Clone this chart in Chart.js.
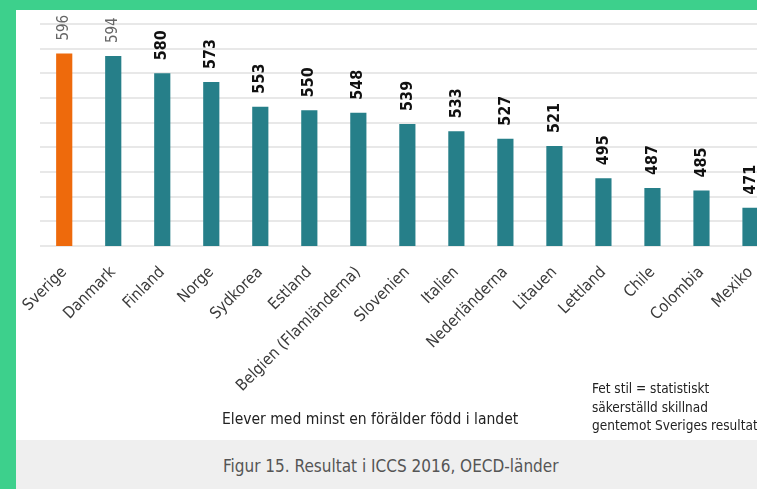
<!DOCTYPE html>
<html lang="sv">
<head>
<meta charset="utf-8">
<script src="https://cdn.jsdelivr.net/npm/chart.js@4/dist/chart.umd.min.js"></script>
<style>
  html, body { margin: 0; padding: 0; }
  body {
    width: 757px; height: 489px; overflow: hidden;
    background: #3dd08c; position: relative;
    font-family: "DejaVu Sans Condensed", "DejaVu Sans", sans-serif;
  }
  #panel {
    position: absolute; left: 16px; top: 10px; width: 800px; height: 479px;
    background: #fff; overflow: hidden;
  }
  #chart { position: absolute; left: 0; top: 0; }
  #footer {
    position: absolute; left: 0; top: 430px; width: 800px; height: 49px;
    background: #efefef;
  }
  #caption {
    position: absolute; left: 207px; top: 16px;
    font-size: 17px; line-height: 20px; color: #555;
  }
  #axisnote {
    position: absolute; left: 206px; top: 400px;
    font-size: 15.5px; line-height: 18px; color: #222;
  }
  #note {
    position: absolute; left: 576px; top: 369px;
    font-size: 13.5px; line-height: 18.5px; color: #222; white-space: nowrap;
  }
</style>
</head>
<body>
<div id="panel">
  <canvas id="chart" width="780" height="430"></canvas>
  <div id="axisnote">Elever med minst en förälder född i landet</div>
  <div id="note">Fet stil = statistiskt<br>säkerställd skillnad<br>gentemot Sveriges resultat</div>
  <div id="footer"><div id="caption">Figur 15. Resultat i ICCS 2016, OECD-länder</div></div>
</div>
<script>
var lander = ['Sverige', 'Danmark', 'Finland', 'Norge', 'Sydkorea', 'Estland',
  'Belgien (Flamländerna)', 'Slovenien', 'Italien', 'Nederländerna', 'Litauen',
  'Lettland', 'Chile', 'Colombia', 'Mexiko'];
var resultat = [596, 594, 580, 573, 553, 550, 548, 539, 533, 527, 521, 495, 487, 485, 471];
// fet stil = statistiskt säkerställd skillnad mot Sverige
var signifikant = [false, false, true, true, true, true, true, true, true, true, true, true, true, true, true];

var fontFam = '"DejaVu Sans Condensed", "DejaVu Sans", sans-serif';

var barColors = lander.map(function (l) {
    return l === 'Sverige' ? '#ee6a0c' : '#267f89';
});

// värdeetiketter ovanför staplarna, roterade
var valueLabels = {
    id: 'valueLabels',
    afterDatasetsDraw: function (chart) {
        var ctx = chart.ctx;
        var meta = chart.getDatasetMeta(0);
        meta.data.forEach(function (bar, i) {
            ctx.save();
            ctx.translate(bar.x, bar.y - 13);
            ctx.rotate(-Math.PI / 2);
            ctx.textAlign = 'left';
            ctx.textBaseline = 'middle';
            ctx.font = signifikant[i] ? 'bold 16px ' + fontFam : '15px ' + fontFam;
            ctx.fillStyle = signifikant[i] ? '#111' : '#666';
            ctx.fillText(String(resultat[i]), 0, 0);
            ctx.restore();
        });
    }
};

var ctx = document.getElementById('chart').getContext('2d');
var myChart = new Chart(ctx, {
    type: 'bar',
    data: {
        labels: lander,
        datasets: [{
            data: resultat,
            backgroundColor: barColors,
            categoryPercentage: 1,
            barPercentage: 0.33
        }]
    },
    options: {
        responsive: false,
        animation: false,
        layout: { padding: { left: 22, right: 21, top: 14, bottom: 0 } },
        plugins: {
            legend: { display: false },
            tooltip: { enabled: false }
        },
        scales: {
            x: {
                grid: { display: false },
                border: { display: false },
                ticks: {
                    minRotation: 45, maxRotation: 45,
                    padding: 9,
                    color: '#3a3a3a',
                    font: { family: fontFam, size: 16 }
                },
                afterFit: function (scale) { scale.height = 194; }
            },
            y: {
                min: 440, max: 620,
                grid: { color: '#e8e8e8', lineWidth: 2, drawTicks: false },
                border: { display: false },
                ticks: { display: false, stepSize: 20 },
                afterFit: function (scale) { scale.width = 0; }
            }
        }
    },
    plugins: [valueLabels]
});
</script>
</body>
</html>
